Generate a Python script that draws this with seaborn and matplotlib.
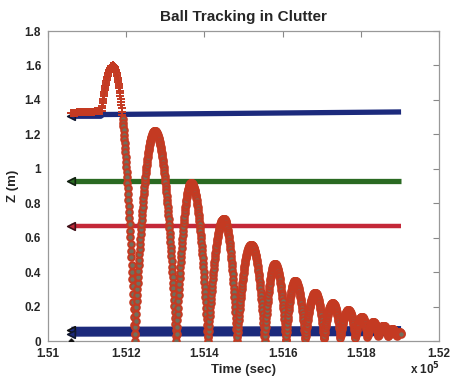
import numpy as np
import pandas as pd
import matplotlib
matplotlib.use("Agg")
import matplotlib.pyplot as plt
import seaborn as sns
from matplotlib.ticker import FuncFormatter, MultipleLocator

# ---------------- data (time in units of 1e-3 x 1e5 s past 1.51e5 s) ----------------
T0 = 151000.0      # seconds at axis origin
KU = 100.0         # seconds per k-unit (0.001 x 10^5)

# ball track: flat part before the throw
pre_t = [0.60, 1.00, 1.37]
pre_z = [1.325, 1.330, 1.335]
# bounce boundaries (start of each arc / ground contacts) and apexes
bound_t = [1.37, 2.22, 3.28, 4.09, 4.83, 5.54, 6.09, 6.58, 7.06, 7.48, 7.86,
           8.17, 8.45, 8.70, 8.92, 9.03]
bound_z = [1.335, 0.0, 0.0, 0.0, 0.0, 0.0, 0.005, 0.01, 0.015, 0.02, 0.02,
           0.025, 0.03, 0.03, 0.03, 0.04]
apex_t = [1.66, 2.73, 3.66, 4.49, 5.20, 5.80, 6.32, 6.83, 7.28, 7.68, 8.02,
          8.32, 8.58, 8.81, 9.00]
apex_z = [1.60, 1.22, 0.92, 0.71, 0.56, 0.45, 0.35, 0.28, 0.22, 0.18, 0.14,
          0.11, 0.09, 0.07, 0.05]
frame_dt = 0.0085     # camera frame spacing (k-units)
cross_until = 1.90    # track drawn with '+' markers until here

# clutter tracks
top_blue_t = [0.60, 1.35, 1.40, 4.00, 9.03]
top_blue_z = [1.305, 1.305, 1.315, 1.320, 1.330]
green_t = [0.60, 9.03]
green_z = [0.930, 0.930]
crimson_t = [0.60, 9.03]
crimson_z = [0.665, 0.665]
low1_t = [0.60, 9.03]
low1_z = [0.066, 0.070]
low2_t = [0.60, 9.03]
low2_z = [0.042, 0.045]
black_t = [0.60]
black_z = [0.0]

# ---------------- build ball samples at frame rate ----------------
ts, zs = [], []
seg = np.arange(pre_t[0], pre_t[-1], frame_dt)
ts += list(seg); zs += list(np.interp(seg, pre_t, pre_z))
for i in range(len(apex_t)):
    a, h = apex_t[i], apex_z[i]
    s, zs0 = bound_t[i], bound_z[i]
    e, ze = bound_t[i + 1], bound_z[i + 1]
    up = np.arange(s, a, frame_dt)
    ts += list(up); zs += list(h - (h - zs0) * ((up - a) / (a - s)) ** 2)
    dn = np.arange(a, e, frame_dt)
    ts += list(dn); zs += list(h - (h - ze) * ((dn - a) / (e - a)) ** 2)
ball = pd.DataFrame({"t": T0 + np.array(ts) * KU, "z": zs})
ball_cross = ball[ball.t < T0 + cross_until * KU]
ball_circ = ball[ball.t >= T0 + cross_until * KU]

def sec(lst):
    return [T0 + v * KU for v in lst]

# ---------------- plotting ----------------
sns.set_style("white")
plt.rcParams["font.family"] = ["Liberation Sans", "DejaVu Sans"]
plt.rcParams["font.weight"] = "bold"
plt.rcParams["mathtext.default"] = "bf"

fig = plt.figure(figsize=(4.52, 3.80), dpi=100)
ax = fig.add_axes([48 / 452, 1 - 341 / 380, (439 - 48) / 452, (341 - 31) / 380])

navy = "#1c2a7c"
green = "#2a6a22"
crimson = "#c42838"
red = "#c43a22"

def track(t, z, color, lw, edge):
    sns.lineplot(x=sec(t), y=z, ax=ax, color=color, linewidth=lw,
                 estimator=None, sort=False, solid_capstyle="butt")
    sns.scatterplot(x=sec(t[:1]), y=z[:1], ax=ax, marker="<", s=30,
                    color=color, edgecolor=edge, linewidth=1.2, zorder=4)

track(top_blue_t, top_blue_z, navy, 3.8, "#101830")
track(green_t, green_z, green, 3.8, "#102010")
track(crimson_t, crimson_z, crimson, 3.2, "#401018")

sns.scatterplot(data=ball_cross, x="t", y="z", ax=ax, marker="+", s=26,
                color=red, linewidth=1.4, zorder=5)
sns.scatterplot(data=ball_circ, x="t", y="z", ax=ax, marker="o", s=22,
                facecolor="#70705e", edgecolor=red, linewidth=1.5, zorder=5)

track(low1_t, low1_z, navy, 4.2, "#101010")
track(low2_t, low2_z, navy, 4.2, "#101830")
sns.scatterplot(x=sec(black_t), y=black_z, ax=ax, marker="D", s=14,
                color="#111111", zorder=6)

ax.set_xlim(151000, 152000)
ax.set_ylim(0, 1.8)
ax.xaxis.set_major_locator(MultipleLocator(200))
ax.yaxis.set_major_locator(MultipleLocator(0.2))
ax.xaxis.set_major_formatter(FuncFormatter(lambda v, p: f"{v / 1e5:g}"))
ax.yaxis.set_major_formatter(FuncFormatter(lambda v, p: f"{round(v, 1):g}"))
ax.tick_params(direction="in", top=True, right=True, length=4, width=0.8,
               color="#888888", labelsize=8.5, pad=5)
for lab in ax.get_xticklabels() + ax.get_yticklabels():
    lab.set_fontweight("bold")
for sp in ax.spines.values():
    sp.set_color("#999999")
    sp.set_linewidth(0.9)

ax.set_title("Ball Tracking in Clutter", fontsize=11, fontweight="bold", pad=7)
ax.set_xlabel("Time (sec)", fontsize=9.5, fontweight="bold", labelpad=3)
ax.set_ylabel("Z (m)", fontsize=9.5, fontweight="bold", labelpad=4)
fig.text(410 / 452, 1 - 377 / 380, r"x 10$^{5}$", fontsize=8.5,
         fontweight="bold", ha="left", va="bottom")

fig.savefig("out.png", dpi=100)
